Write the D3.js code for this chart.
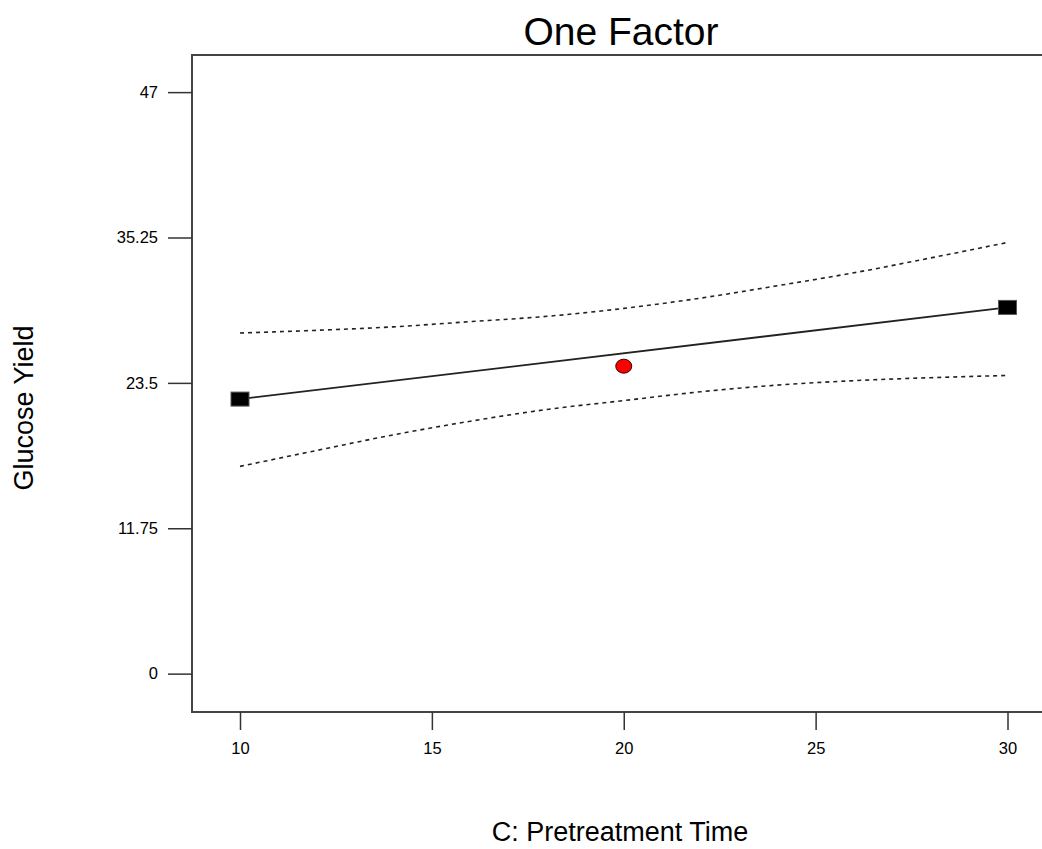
<!DOCTYPE html>
<html>
<head>
<meta charset="utf-8">
<script src="https://cdn.jsdelivr.net/npm/d3@7"></script>
<style>
  body { margin: 0; background: #fff; }
  text { font-family: Arial, "Liberation Sans", sans-serif; fill: #000; }
</style>
</head>
<body>
<div id="chart"></div>
<script>
// data
const xTicks = [10, 15, 20, 25, 30]
const yTicks = [0, 11.75, 23.5, 35.25, 47]
const ciX = [10, 12, 14, 16, 18, 20, 22, 24, 26, 28, 30]
const ciUpper = [27.53, 27.75, 28.03, 28.45, 28.88, 29.52, 30.35, 31.35, 32.4, 33.6, 34.85]
const ciLower = [16.75, 18.04, 19.3, 20.4, 21.35, 22.07, 22.78, 23.32, 23.68, 23.92, 24.1]
const fitX = [10, 30]
const fitY = [22.19, 29.6]
const designX = [10, 30]
const designY = [22.19, 29.6]
const centerX = [20]
const centerY = [24.85]

const width = 1042, height = 849
const plotLeft = 192, plotTop = 55, plotBottom = 712

const svg = d3.select("#chart").append("svg")
  .attr("width", width)
  .attr("height", height)

const x = d3.scaleLinear().domain([10, 30]).range([240, 1007.5])
const y = d3.scaleLinear().domain([-3.1, 50]).range([plotBottom, plotTop])

// frame (right side runs off the picture)
svg.append("path")
  .attr("d", `M${width + 5},${plotTop}H${plotLeft}V${plotBottom}H${width + 5}`)
  .attr("fill", "none")
  .attr("stroke", "#444")
  .attr("stroke-width", 2)

// y axis
const yAxis = svg.append("g")
  .attr("transform", `translate(${plotLeft},0)`)
  .call(d3.axisLeft(y).tickValues(yTicks).tickSize(24).tickPadding(10)
    .tickFormat(d => String(d)))
yAxis.select(".domain").remove()
yAxis.selectAll("line").attr("stroke", "#333").attr("stroke-width", 1.5)
yAxis.selectAll("text").style("font-size", "16.5px").attr("fill", "#000")

// x axis
const xAxis = svg.append("g")
  .attr("transform", `translate(0,${plotBottom})`)
  .call(d3.axisBottom(x).tickValues(xTicks).tickSize(18).tickPadding(12))
xAxis.select(".domain").remove()
xAxis.selectAll("line").attr("stroke", "#333").attr("stroke-width", 1.5)
xAxis.selectAll("text").style("font-size", "16.5px").attr("fill", "#000")

// confidence bands, dotted
const line = d3.line().x(d => x(d[0])).y(d => y(d[1])).curve(d3.curveMonotoneX)
;[ciUpper, ciLower].forEach(vals => {
  svg.append("path")
    .datum(ciX.map((v, i) => [v, vals[i]]))
    .attr("d", line)
    .attr("fill", "none")
    .attr("stroke", "#222")
    .attr("stroke-width", 1.6)
    .attr("stroke-dasharray", "4,4")
})

// fitted line
svg.append("path")
  .datum(fitX.map((v, i) => [v, fitY[i]]))
  .attr("d", d3.line().x(d => x(d[0])).y(d => y(d[1])))
  .attr("fill", "none")
  .attr("stroke", "#222")
  .attr("stroke-width", 1.8)

// design points
svg.selectAll(".sq")
  .data(designX.map((v, i) => [v, designY[i]]))
  .join("rect")
  .attr("x", d => x(d[0]) - 9)
  .attr("y", d => y(d[1]) - 7)
  .attr("width", 18)
  .attr("height", 14)
  .attr("fill", "#000")
  .attr("stroke", "#555")
  .attr("stroke-width", 1)

svg.selectAll(".dot")
  .data(centerX.map((v, i) => [v, centerY[i]]))
  .join("ellipse")
  .attr("cx", d => x(d[0]))
  .attr("cy", d => y(d[1]))
  .attr("rx", 8)
  .attr("ry", 7)
  .attr("fill", "#f00")
  .attr("stroke", "#300")
  .attr("stroke-width", 1)

// titles
svg.append("text")
  .attr("x", 621).attr("y", 45)
  .attr("text-anchor", "middle")
  .style("font-size", "39px")
  .text("One Factor")

svg.append("text")
  .attr("transform", "translate(33,408) rotate(-90)")
  .attr("text-anchor", "middle")
  .style("font-size", "27px")
  .text("Glucose Yield")

svg.append("text")
  .attr("x", 620).attr("y", 841)
  .attr("text-anchor", "middle")
  .style("font-size", "27px")
  .text("C: Pretreatment Time")
</script>
</body>
</html>
